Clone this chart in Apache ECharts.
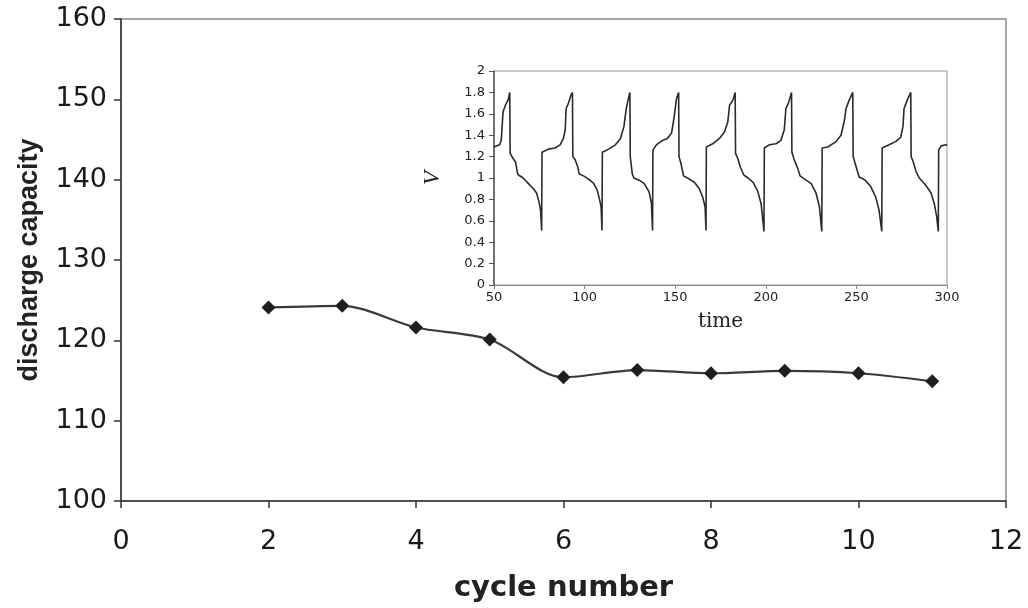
<!DOCTYPE html>
<html>
<head>
<meta charset="utf-8">
<script src="https://cdn.jsdelivr.net/npm/echarts@6/dist/echarts.min.js"></script>
<style>
  html, body { margin: 0; padding: 0; background: #fff; }
  #chart { width: 1028px; height: 608px; }
</style>
</head>
<body>
<div id="chart"></div>
<script>
// main plot: discharge capacity per cycle
const cycles = [2, 3, 4, 5, 6, 7, 8, 9, 10, 11];
const capacity = [124.1, 124.3, 121.6, 120.1, 115.4, 116.3, 115.9, 116.2, 115.9, 114.9];

// inset: voltage vs time
const insetTime = [
  50, 53.1, 54, 55, 56.3, 57.8, 58.7, 58.9, 60.6, 61.9, 62.8, 63.3, 66.1, 68.9, 71.7, 73.5, 74.8, 75.7, 76.3,
  76.5, 80, 83.7, 86.5, 88.3, 89.3, 89.8, 91.1, 92.6, 93.3, 93.5, 94.8, 96.3, 97, 99.4, 102.2, 105, 106.9, 108.1, 109.1, 109.6,
  109.8, 113.3, 117, 119.8, 121.7, 123, 124.4, 125, 125.2, 126.3, 127.2, 130, 132.8, 135.6, 136.9, 137.5,
  137.7, 139.6, 142.9, 145.7, 148, 149.4, 150.7, 151.9, 152.1, 153.1, 154.6, 157.8, 160.6, 163.3, 165.2, 166.5, 167,
  167.2, 170.7, 174.4, 177.2, 179, 180, 181.9, 183.1, 183.3, 184.6, 186, 187.8, 190.2, 193, 195.5, 197.4, 199,
  199.2, 201.9, 205.6, 208.3, 210.2, 211.1, 212.5, 214.2, 214.4, 215.7, 217.6, 218.9, 222.2, 225, 227.7, 229.6, 230.9,
  231.1, 234.2, 238.8, 241.5, 243.4, 244.3, 246.1, 248, 248.2, 249.6, 251.5, 254.8, 257.9, 260.7, 262.5, 264,
  264.2, 268, 271.7, 274.4, 275.7, 276.3, 278.1, 280, 280.2, 281.4, 282.9, 284.7, 288.4, 291.2, 293, 294.3, 295.2,
  295.4, 296.8, 299.6, 300
];
const insetVolt = [
  1.29, 1.31, 1.35, 1.62, 1.68, 1.73, 1.80, 1.23, 1.18, 1.15, 1.06, 1.03, 1.00, 0.95, 0.90, 0.86, 0.78, 0.70, 0.51,
  1.24, 1.27, 1.28, 1.31, 1.37, 1.45, 1.65, 1.70, 1.78, 1.80, 1.20, 1.17, 1.10, 1.04, 1.02, 0.99, 0.95, 0.89, 0.81, 0.73, 0.51,
  1.24, 1.27, 1.31, 1.37, 1.48, 1.65, 1.76, 1.80, 1.20, 1.04, 1.00, 0.98, 0.95, 0.87, 0.76, 0.51,
  1.26, 1.31, 1.35, 1.37, 1.42, 1.57, 1.74, 1.80, 1.20, 1.14, 1.02, 0.99, 0.96, 0.90, 0.82, 0.73, 0.51,
  1.29, 1.32, 1.37, 1.43, 1.52, 1.68, 1.73, 1.80, 1.23, 1.18, 1.10, 1.03, 1.00, 0.96, 0.88, 0.76, 0.50,
  1.28, 1.31, 1.32, 1.35, 1.45, 1.65, 1.70, 1.80, 1.24, 1.17, 1.09, 1.02, 0.98, 0.95, 0.86, 0.73, 0.50,
  1.28, 1.29, 1.34, 1.40, 1.54, 1.65, 1.73, 1.80, 1.20, 1.12, 1.01, 0.98, 0.92, 0.82, 0.70, 0.50,
  1.28, 1.31, 1.34, 1.38, 1.48, 1.65, 1.73, 1.80, 1.20, 1.15, 1.06, 1.00, 0.93, 0.86, 0.76, 0.64, 0.50,
  1.26, 1.30, 1.31, 1.31
];

const mainData = cycles.map((c, i) => [c, capacity[i]]);
const insetData = insetTime.map((t, i) => [t, insetVolt[i]]);

const chart = echarts.init(document.getElementById("chart"), null, { renderer: "canvas" });

const option = {
  animation: false,
  backgroundColor: "#fff",
  grid: [
    {
      left: 121, right: 22, top: 19, bottom: 104,
      show: true, borderColor: "#8a8a8a", borderWidth: 1.5,
    },
    {
      left: 494, right: 81, top: 71, bottom: 323,
      show: true, backgroundColor: "#fff", borderColor: "#9a9a9a", borderWidth: 1,
      z: 5,
    },
  ],
  xAxis: [
    {
      gridIndex: 0, type: "value", min: 0, max: 12, interval: 2,
      name: "cycle number", nameLocation: "middle", nameGap: 73,
      nameTextStyle: { fontFamily: "DejaVu Sans", fontWeight: "bold", fontSize: 29, color: "#222" },
      axisLine: { show: true, lineStyle: { color: "#333", width: 1.5 } },
      axisTick: { show: true, length: 7, lineStyle: { color: "#333", width: 1.5 } },
      axisLabel: { margin: 27, fontFamily: "DejaVu Sans", fontSize: 27, color: "#1a1a1a" },
      splitLine: { show: false },
    },
    {
      gridIndex: 1, type: "value", min: 50, max: 300, interval: 50,
      name: "time", nameLocation: "middle", nameGap: 27,
      nameTextStyle: { fontFamily: "DejaVu Serif", fontSize: 20, color: "#222" },
      axisLine: { show: true, lineStyle: { color: "#888", width: 1 } },
      axisTick: { show: true, length: 4, lineStyle: { color: "#888" } },
      axisLabel: { margin: 6, fontFamily: "DejaVu Sans", fontSize: 13, color: "#222" },
      splitLine: { show: false },
      z: 6,
    },
  ],
  yAxis: [
    {
      gridIndex: 0, type: "value", min: 100, max: 160, interval: 10,
      name: "discharge capacity", nameLocation: "middle", nameGap: 78,
      nameTextStyle: { fontFamily: "Liberation Sans", fontWeight: "bold", fontSize: 27, color: "#222" },
      axisLine: { show: true, lineStyle: { color: "#333", width: 1.5 } },
      axisTick: { show: true, length: 7, lineStyle: { color: "#333", width: 1.5 } },
      axisLabel: { margin: 14, fontFamily: "DejaVu Sans", fontSize: 27, color: "#1a1a1a" },
      splitLine: { show: false },
    },
    {
      gridIndex: 1, type: "value", min: 0, max: 2, interval: 0.2,
      name: "V", nameLocation: "middle", nameGap: 50,
      nameTextStyle: { fontFamily: "Liberation Serif", fontStyle: "italic", fontSize: 23, color: "#222" },
      axisLine: { show: true, lineStyle: { color: "#555", width: 1.5 } },
      axisTick: { show: true, length: 5, lineStyle: { color: "#555" } },
      axisLabel: { margin: 9, fontFamily: "DejaVu Sans", fontSize: 13, color: "#222" },
      splitLine: { show: false },
      z: 6,
    },
  ],
  series: [
    {
      type: "line",
      xAxisIndex: 0, yAxisIndex: 0,
      data: mainData,
      smooth: 0.3,
      symbol: "diamond",
      symbolSize: 14,
      itemStyle: { color: "#1e1e1e" },
      lineStyle: { color: "#3a3a3a", width: 2.2 },
    },
    {
      type: "line",
      xAxisIndex: 1, yAxisIndex: 1,
      data: insetData,
      showSymbol: false,
      smooth: false,
      lineStyle: { color: "#2a2a2a", width: 1.6 },
      z: 7,
    },
  ],
};

chart.setOption(option);
</script>
</body>
</html>
